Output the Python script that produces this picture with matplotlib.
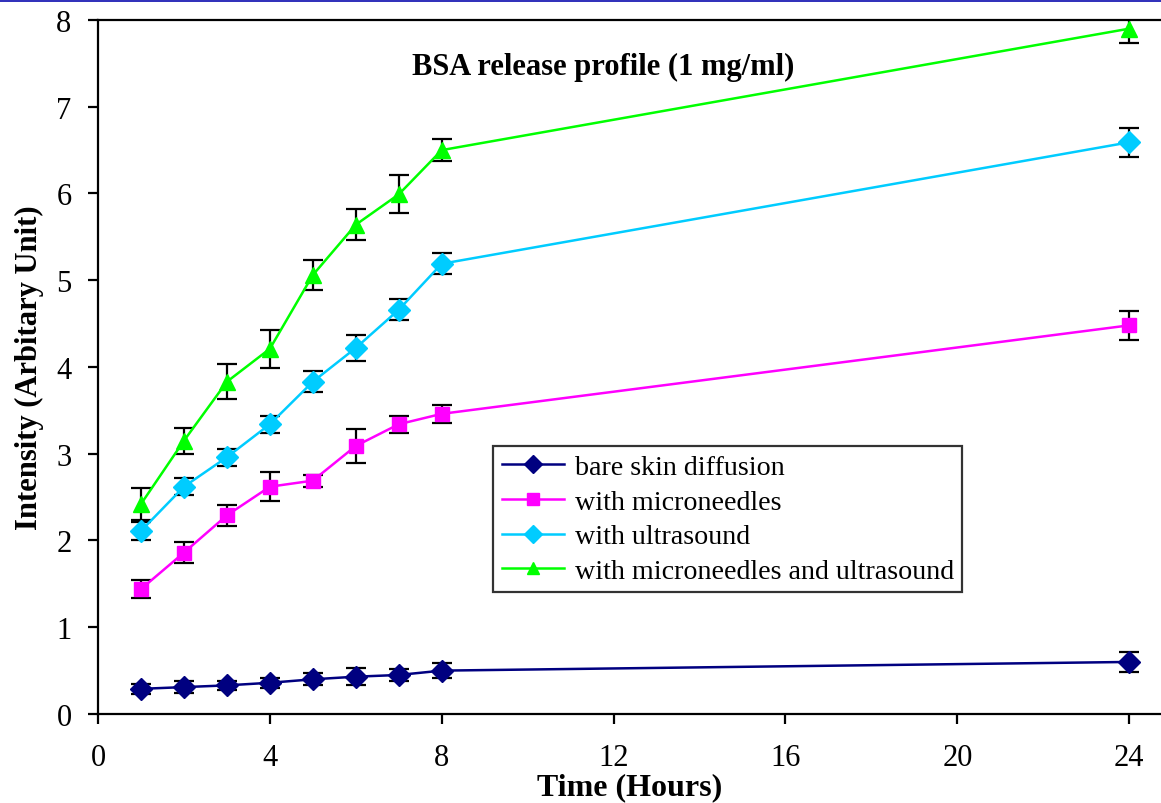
import numpy as np
import matplotlib
matplotlib.use("Agg")
import matplotlib.pyplot as plt
from matplotlib.patches import Rectangle

# time points (hours)
hours = [1, 2, 3, 4, 5, 6, 7, 8, 24]

# series values
bare_vals = [0.29, 0.31, 0.33, 0.36, 0.40, 0.43, 0.45, 0.50, 0.60]
bare_err = [0.06, 0.07, 0.05, 0.06, 0.07, 0.10, 0.07, 0.09, 0.12]

mn_vals = [1.44, 1.86, 2.29, 2.62, 2.69, 3.09, 3.34, 3.46, 4.48]
mn_err = [0.10, 0.12, 0.12, 0.17, 0.07, 0.20, 0.10, 0.10, 0.17]

us_vals = [2.11, 2.62, 2.96, 3.34, 3.83, 4.22, 4.66, 5.19, 6.59]
us_err = [0.10, 0.10, 0.10, 0.10, 0.12, 0.15, 0.12, 0.12, 0.17]

both_vals = [2.42, 3.15, 3.83, 4.21, 5.06, 5.64, 5.99, 6.50, 7.90]
both_err = [0.18, 0.15, 0.20, 0.22, 0.17, 0.18, 0.22, 0.13, 0.16]

labels = ["bare skin diffusion", "with microneedles", "with ultrasound",
          "with microneedles and ultrasound"]
colors = ["#000080", "#FF00FF", "#00CCFF", "#00FF00"]
markers = ["D", "s", "D", "^"]
msizes = [11, 10, 11, 12]

x_ticks = [0, 4, 8, 12, 16, 20, 24]
y_ticks = [0, 1, 2, 3, 4, 5, 6, 7, 8]

plt.rcParams["font.family"] = ["Liberation Serif", "DejaVu Serif"]

fig = plt.figure(figsize=(11.61, 8.04), dpi=100)
ax = fig.add_axes([0.0844, 0.1107, 1 - 0.0844, 0.9739 - 0.1107])

series = [(bare_vals, bare_err), (mn_vals, mn_err), (us_vals, us_err), (both_vals, both_err)]

handles = []
for i, (vals, err) in enumerate(series):
    ax.errorbar(hours, vals, yerr=err, fmt="none", ecolor="black",
                elinewidth=1.6, capsize=7, capthick=1.6, zorder=2)
    h, = ax.plot(hours, vals, color=colors[i], lw=1.8, marker=markers[i],
                 ms=msizes[i], mec=colors[i], mfc=colors[i], zorder=3, label=labels[i])
    handles.append(h)

ax.set_xlim(0, 24.74)
ax.set_ylim(0, 8)
ax.set_xticks(x_ticks)
ax.set_yticks(y_ticks)
ax.tick_params(axis="both", direction="out", length=7, width=1.6, labelsize=22)
ax.tick_params(axis="x", pad=14)
ax.tick_params(axis="y", pad=12)

ax.spines["right"].set_visible(False)
for s in ["left", "top", "bottom"]:
    ax.spines[s].set_linewidth(1.6)

ax.set_xlabel("Time (Hours)", fontsize=23, fontweight="bold", labelpad=0)
ax.set_ylabel("Intensity (Arbitary Unit)", fontsize=22, fontweight="bold", labelpad=9)

ax.text(0.475, 7.47, "BSA release profile (1 mg/ml)", transform=ax.get_yaxis_transform(),
        ha="center", va="center", fontsize=22, fontweight="bold")

leg = ax.legend(handles=handles, loc="upper left", bbox_to_anchor=(0.372, 0.386),
                fontsize=20.2, frameon=True, fancybox=False, edgecolor="black",
                handlelength=2.2, handletextpad=0.4, borderpad=0.3, labelspacing=0.32,
                borderaxespad=0)
leg.get_frame().set_linewidth(1.6)
for lh in leg.legend_handles:
    lh.set_markersize(9)

# thin blue band along the top edge of the image
fig.add_artist(Rectangle((0, 0.9965), 1, 0.0035, transform=fig.transFigure,
                         color="#3333BB", lw=0))

fig.savefig("out.png", dpi=100)
